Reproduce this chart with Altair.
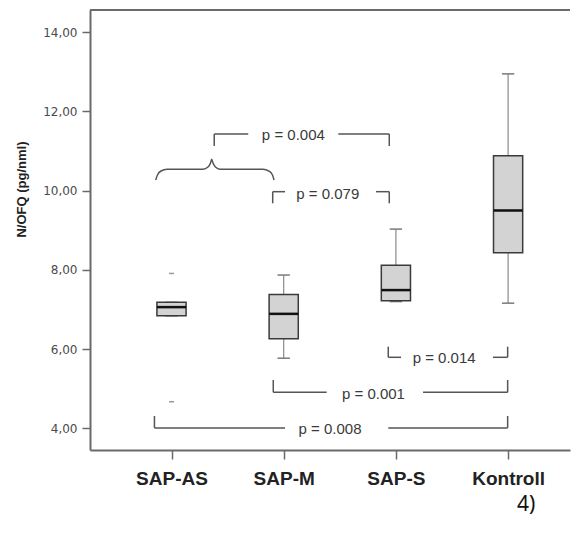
import altair as alt
import pandas as pd

# ---------------- data ----------------
groups = ["SAP-AS", "SAP-M", "SAP-S", "Kontroll"]
whisker_low = [6.84, 5.77, 7.20, 7.16]
q1 = [6.84, 6.26, 7.22, 8.43]
median = [7.06, 6.89, 7.49, 9.50]
q3 = [7.18, 7.38, 8.12, 10.88]
whisker_high = [7.18, 7.87, 9.03, 12.95]

outlier_group = ["SAP-AS", "SAP-AS"]
outlier_value = [7.91, 4.67]

# significance brackets: category-index positions and N/OFQ levels
br_label = ["p = 0.004", "p = 0.079", "p = 0.014", "p = 0.001", "p = 0.008"]
br_left = [1.381, 1.902, 2.932, 1.907, 0.848]
br_right = [2.941, 2.941, 3.996, 3.996, 3.996]
br_line = [11.432, 9.975, 5.793, 4.909, 4.010]
br_tip = [11.129, 9.682, 6.061, 5.220, 4.310]
br_gap_l = [1.684, 2.012, 3.046, 2.383, 2.012]
br_gap_r = [2.487, 2.823, 3.865, 3.242, 2.932]
br_text_x = [2.086, 2.393, 3.430, 2.800, 2.413]
br_text_y = [11.400, 9.923, 5.768, 4.866, 3.980]

# curly brace over SAP-AS / SAP-M
brace_x = [0.859, 0.875, 0.906, 0.960, 1.281, 1.325, 1.348, 1.358,
           1.370, 1.392, 1.432, 1.816, 1.869, 1.900, 1.914]
brace_y = [10.270, 10.396, 10.497, 10.543, 10.543, 10.599, 10.700, 10.793,
           10.700, 10.599, 10.543, 10.543, 10.497, 10.396, 10.270]

y_ticks = [4, 6, 8, 10, 12, 14]

# ---------------- tables ----------------
box = pd.DataFrame({
    "group": groups,
    "pos": list(range(1, len(groups) + 1)),
    "wlo": whisker_low, "q1": q1, "med": median, "q3": q3, "whi": whisker_high,
})
outl = pd.DataFrame({
    "pos": [groups.index(g) + 1 for g in outlier_group],
    "val": outlier_value,
})

segs = []
for i in range(len(br_label)):
    segs.append(dict(x=br_left[i], x2=br_left[i], y=br_tip[i], y2=br_line[i]))
    segs.append(dict(x=br_left[i], x2=br_gap_l[i], y=br_line[i], y2=br_line[i]))
    segs.append(dict(x=br_gap_r[i], x2=br_right[i], y=br_line[i], y2=br_line[i]))
    segs.append(dict(x=br_right[i], x2=br_right[i], y=br_line[i], y2=br_tip[i]))
segs = pd.DataFrame(segs)
labels = pd.DataFrame({"x": br_text_x, "y": br_text_y, "t": br_label})
brace = pd.DataFrame({"x": brace_x, "y": brace_y, "o": list(range(len(brace_x)))})

# ---------------- scales / axes ----------------
W, H = 480, 440
xs = alt.Scale(domain=[0.2736, 4.5517], nice=False, zero=False)
ys = alt.Scale(domain=[3.452, 14.563], nice=False, zero=False)

label_expr = "[" + ",".join("'%s'" % g for g in groups) + "][datum.value - 1]"
x_axis = alt.Axis(
    values=list(range(1, len(groups) + 1)), labelExpr=label_expr, grid=False,
    tickSize=9, tickWidth=1.5, tickColor="#6a6a6a", domainColor="#6a6a6a", domainWidth=2,
    labelPadding=10, labelFont="Liberation Sans", labelFontWeight="bold",
    labelFontSize=19, labelColor="#222222", title=None,
)
y_axis = alt.Axis(
    values=y_ticks, labelExpr="replace(format(datum.value, '.2f'), '.', ',')", grid=False,
    tickSize=8, tickWidth=1.5, tickColor="#6a6a6a", domainColor="#6a6a6a", domainWidth=2,
    labelPadding=5, labelFont="DejaVu Sans", labelFontSize=12, labelColor="#4a4a4a",
    title="N/OFQ (pg/nml)", titleFont="Liberation Sans", titleFontWeight="bold",
    titleFontSize=13, titleColor="#222222", titleX=-68.5, titleY=179, titleAngle=270,
    titleAlign="center", titleBaseline="middle",
)

def X(f):
    return alt.X(f, type="quantitative", scale=xs, axis=x_axis)

def Y(f):
    return alt.Y(f, type="quantitative", scale=ys, axis=y_axis)

b = alt.Chart(box)
whisk = b.mark_rule(color="#8a8a8a", strokeWidth=1.2).encode(
    x=X("pos"), y=Y("wlo"), y2="whi")
caps_lo = b.transform_calculate(a="datum.pos - 0.055", c="datum.pos + 0.055").mark_rule(
    color="#7a7a7a", strokeWidth=1.5).encode(x=X("a"), x2="c", y=Y("wlo"))
caps_hi = b.transform_calculate(a="datum.pos - 0.055", c="datum.pos + 0.055").mark_rule(
    color="#7a7a7a", strokeWidth=1.5).encode(x=X("a"), x2="c", y=Y("whi"))
rect = b.transform_calculate(a="datum.pos - 0.13", c="datum.pos + 0.13").mark_rect(
    fill="#d3d3d3", stroke="#3a3a3a", strokeWidth=1.5).encode(
    x=X("a"), x2="c", y=Y("q1"), y2="q3")
med = b.transform_calculate(a="datum.pos - 0.13", c="datum.pos + 0.13").mark_rule(
    color="#111111", strokeWidth=2.5).encode(x=X("a"), x2="c", y=Y("med"))
outs = alt.Chart(outl).transform_calculate(a="datum.pos - 0.022", c="datum.pos + 0.022").mark_rule(
    color="#9a9a9a", strokeWidth=1.5).encode(x=X("a"), x2="c", y=Y("val"))

brk = alt.Chart(segs).mark_rule(color="#555555", strokeWidth=1.5).encode(
    x=X("x"), x2="x2", y=Y("y"), y2="y2")
brc = alt.Chart(brace).mark_line(color="#555555", strokeWidth=1.5, interpolate="monotone").encode(
    x=X("x"), y=Y("y"), order="o:Q")
txt = alt.Chart(labels).mark_text(
    font="Liberation Sans", fontSize=15, color="#3a3a3a", align="center", baseline="middle").encode(
    x=X("x"), y=Y("y"), text="t:N")

top = alt.Chart(pd.DataFrame({"k": [0]})).mark_rule(color="#6a6a6a", strokeWidth=2).encode(
    x=alt.value(0), x2=alt.value(W), y=alt.value(0))
cap = alt.Chart(pd.DataFrame({"t": ["4)"]})).mark_text(
    font="Noto Sans", fontSize=21, color="#111111", align="left", baseline="alphabetic").encode(
    x=alt.value(427), y=alt.value(501), text="t:N")

chart = alt.layer(whisk, caps_lo, caps_hi, rect, med, outs, brk, brc, txt, top, cap).properties(
    width=W, height=H,
    autosize=alt.AutoSizeParams(type="none"),
    padding={"left": 82, "top": 2, "right": 1, "bottom": 66},
).configure_view(stroke=None)

chart.save("out.html", embed_options={"renderer": "svg", "actions": False})
